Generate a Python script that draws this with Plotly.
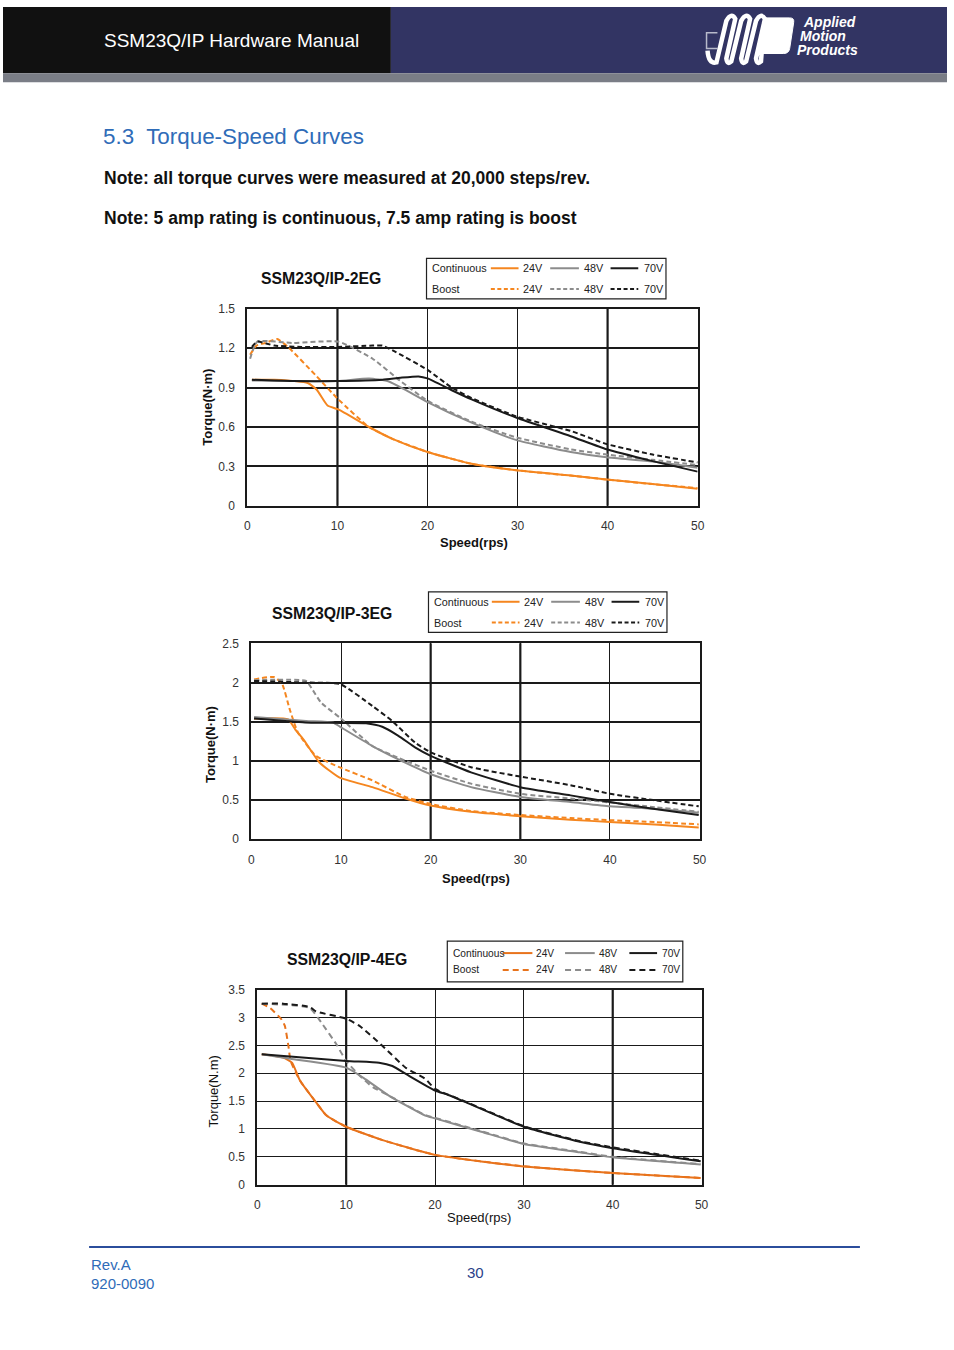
import plotly.graph_objects as go

# ---------------- DATA ----------------
speed_ticks = [0, 10, 20, 30, 40, 50]

# Chart 1: SSM23Q/IP-2EG
eg2_c24_x = [0.5, 3, 6.7, 7.7, 8.9, 10.1, 13.5, 16.1, 20, 24.9, 29.9, 35.9, 39.9, 45, 50]
eg2_c24_y = [0.96, 0.96, 0.935, 0.884, 0.764, 0.734, 0.60, 0.51, 0.41, 0.32, 0.27, 0.23, 0.20, 0.165, 0.13]
eg2_b24_x = [0.3, 1, 2, 3.3, 4.5, 7.7, 10.1, 13.5, 16.1, 20, 24.9, 29.9, 35.9, 39.9, 45, 50]
eg2_b24_y = [1.15, 1.22, 1.24, 1.27, 1.21, 0.985, 0.81, 0.60, 0.51, 0.41, 0.32, 0.27, 0.23, 0.20, 0.165, 0.135]
eg2_c48_x = [0.5, 5, 10, 13.5, 15.7, 17.5, 20, 24.9, 29.9, 35.9, 39.9, 45, 50]
eg2_c48_y = [0.955, 0.95, 0.95, 0.97, 0.947, 0.884, 0.79, 0.633, 0.50, 0.41, 0.37, 0.337, 0.29]
eg2_b48_x = [0.3, 1.1, 5, 10.1, 13.9, 17, 20, 24.9, 29.9, 35.9, 39.9, 45, 50]
eg2_b48_y = [1.12, 1.25, 1.24, 1.25, 1.12, 0.95, 0.80, 0.64, 0.52, 0.43, 0.39, 0.35, 0.31]
eg2_c70_x = [0.5, 5, 10, 15, 17, 19, 20, 22.7, 24.9, 29.9, 35.9, 39.9, 45, 50]
eg2_c70_y = [0.96, 0.95, 0.95, 0.96, 0.975, 0.985, 0.97, 0.88, 0.81, 0.67, 0.53, 0.43, 0.34, 0.26]
eg2_b70_x = [0.5, 1.1, 3, 6, 10, 13.9, 15, 16.5, 20, 22.7, 24.9, 29.9, 35.9, 39.9, 45, 50]
eg2_b70_y = [1.21, 1.25, 1.22, 1.21, 1.21, 1.22, 1.22, 1.17, 1.035, 0.90, 0.82, 0.68, 0.57, 0.47, 0.39, 0.33]

# Chart 2: SSM23Q/IP-3EG
eg3_c24_x = [0.3, 4.1, 4.9, 5.8, 7.6, 9.8, 13.5, 17.2, 20, 24.5, 30, 35.6, 40, 45, 49.9]
eg3_c24_y = [1.54, 1.53, 1.40, 1.275, 0.98, 0.79, 0.665, 0.52, 0.43, 0.35, 0.295, 0.25, 0.22, 0.19, 0.15]
eg3_b24_x = [0.3, 2.5, 3.4, 4.3, 5.2, 7.2, 9.8, 13.5, 17.2, 20, 24.5, 30, 35.6, 40, 45, 49.9]
eg3_b24_y = [2.04, 2.07, 1.99, 1.65, 1.36, 1.065, 0.92, 0.75, 0.54, 0.45, 0.36, 0.31, 0.27, 0.244, 0.22, 0.19]
eg3_c48_x = [0.3, 6.1, 9.1, 9.9, 13.5, 16.4, 20, 24.5, 30, 35.6, 40, 45, 49.9]
eg3_c48_y = [1.56, 1.51, 1.49, 1.435, 1.19, 1.02, 0.83, 0.665, 0.54, 0.475, 0.42, 0.39, 0.34]
eg3_b48_x = [0.3, 6.1, 6.7, 7.8, 9.9, 13.5, 16.4, 20, 24.5, 30, 35.6, 40, 45, 49.9]
eg3_b48_y = [2.03, 2.02, 1.93, 1.74, 1.55, 1.19, 1.04, 0.875, 0.71, 0.58, 0.52, 0.47, 0.41, 0.35]
eg3_c70_x = [0.3, 6, 10, 12.8, 14.6, 16.4, 18.3, 20, 24.5, 30, 35.6, 40, 44.8, 49.9]
eg3_c70_y = [1.54, 1.49, 1.485, 1.48, 1.435, 1.32, 1.17, 1.065, 0.854, 0.665, 0.56, 0.475, 0.39, 0.31]
eg3_b70_x = [0.3, 6, 9.9, 13.5, 15.7, 18.3, 20, 24.5, 30, 35.6, 40, 44.8, 49.9]
eg3_b70_y = [2.02, 2.0, 1.98, 1.70, 1.51, 1.23, 1.11, 0.92, 0.80, 0.69, 0.58, 0.50, 0.42]

# Chart 3: SSM23Q/IP-4EG
eg4_c24_x = [0.5, 2.9, 3.9, 4.8, 6.6, 7.8, 10, 14.1, 20, 25.2, 30, 40, 49.9]
eg4_c24_y = [2.34, 2.28, 2.19, 1.87, 1.48, 1.24, 1.04, 0.80, 0.535, 0.417, 0.327, 0.21, 0.12]
eg4_b24_x = [0.5, 1.45, 2.75, 3.1, 3.5, 3.75, 4.8, 6.6, 7.8, 10, 14.1, 20, 30, 40, 49.9]
eg4_b24_y = [3.25, 3.17, 2.96, 2.85, 2.49, 2.22, 1.87, 1.48, 1.24, 1.04, 0.80, 0.535, 0.33, 0.21, 0.12]
eg4_c48_x = [0.5, 3.7, 10, 12.2, 14.8, 18.9, 20, 25.2, 30, 36.3, 40, 49.9]
eg4_c48_y = [2.34, 2.26, 2.1, 1.89, 1.60, 1.24, 1.19, 0.95, 0.73, 0.58, 0.49, 0.36]
eg4_b48_x = [0.5, 5.9, 7.2, 8.9, 10, 11.5, 13, 14.8, 18.9, 20, 25.2, 30, 36.3, 40, 49.9]
eg4_b48_y = [3.25, 3.17, 2.91, 2.52, 2.22, 1.96, 1.75, 1.60, 1.25, 1.2, 0.96, 0.74, 0.59, 0.50, 0.37]
eg4_c70_x = [0.5, 10, 13.7, 15.2, 17, 20, 21.5, 23.3, 30, 36.3, 40, 49.9]
eg4_c70_y = [2.34, 2.22, 2.19, 2.13, 1.96, 1.69, 1.61, 1.49, 1.04, 0.77, 0.655, 0.42]
eg4_b70_x = [0.5, 2.9, 5.9, 6.6, 10, 11.5, 14.1, 16.7, 18.9, 20, 23.3, 30, 36.3, 40, 49.9]
eg4_b70_y = [3.25, 3.25, 3.19, 3.11, 2.98, 2.85, 2.49, 2.10, 1.90, 1.72, 1.50, 1.05, 0.78, 0.67, 0.43]

chart_titles = ["SSM23Q/IP-2EG", "SSM23Q/IP-3EG", "SSM23Q/IP-4EG"]
y_ranges = [1.5, 2.5, 3.5]
y_dticks = [0.3, 0.5, 0.5]
heavy_speed_grid = [[10, 40], [20, 30], [10, 40]]

# ---------------- STYLE ----------------
W, H = 954, 1350
FONT = "Liberation Sans, Arial, sans-serif"
ORANGE = "#f5861f"
ORANGE3 = "#e8731c"
GRAY = "#8c8c8c"
BLACK = "#1a1a1a"
BLUE = "#2f6cb8"


def X(px):
    return px / W


def Y(py):
    return 1 - py / H


fig = go.Figure()
shapes = []
annotations = []

# plot areas in page pixels: (left, right, top, bottom)
boxes = [(247, 702, 305, 504), (251, 704, 643, 841), (257, 706, 993, 1190)]
series = [
    [(eg2_c24_x, eg2_c24_y, ORANGE, "solid", "24V"), (eg2_b24_x, eg2_b24_y, ORANGE, "dash", "24V"),
     (eg2_c48_x, eg2_c48_y, GRAY, "solid", "48V"), (eg2_b48_x, eg2_b48_y, GRAY, "dash", "48V"),
     (eg2_c70_x, eg2_c70_y, BLACK, "solid", "70V"), (eg2_b70_x, eg2_b70_y, BLACK, "dash", "70V")],
    [(eg3_c24_x, eg3_c24_y, ORANGE, "solid", "24V"), (eg3_b24_x, eg3_b24_y, ORANGE, "dash", "24V"),
     (eg3_c48_x, eg3_c48_y, GRAY, "solid", "48V"), (eg3_b48_x, eg3_b48_y, GRAY, "dash", "48V"),
     (eg3_c70_x, eg3_c70_y, BLACK, "solid", "70V"), (eg3_b70_x, eg3_b70_y, BLACK, "dash", "70V")],
    [(eg4_c24_x, eg4_c24_y, ORANGE3, "solid", "24V"), (eg4_b24_x, eg4_b24_y, ORANGE3, "dash", "24V"),
     (eg4_c48_x, eg4_c48_y, GRAY, "solid", "48V"), (eg4_b48_x, eg4_b48_y, GRAY, "dash", "48V"),
     (eg4_c70_x, eg4_c70_y, BLACK, "solid", "70V"), (eg4_b70_x, eg4_b70_y, BLACK, "dash", "70V")],
]
y_grid_w = [1.9, 2.0, 1.0]
dash_pat = ["5px,3px", "5px,3px", "6px,4px"]

for i, (box, ser) in enumerate(zip(boxes, series)):
    n = "" if i == 0 else str(i + 1)
    l, r, t, b = box
    # heavier vertical grid lines (drawn below the curves)
    for sv in heavy_speed_grid[i]:
        shapes.append(dict(type="line", xref="x" + n, yref=("y" + n) + " domain", x0=sv, x1=sv, y0=0, y1=1,
                           line=dict(color=BLACK, width=2.2), layer="below"))
    for xs, ys, col, dash, name in ser:
        fig.add_trace(go.Scatter(
            x=xs, y=ys, mode="lines", xaxis="x" + n, yaxis="y" + n,
            line=dict(color=col, width=2, dash=dash_pat[i] if dash == "dash" else "solid",
                      shape="spline", smoothing=0.5),
            showlegend=False, hoverinfo="skip", name=name))
    fig.update_layout(**{
        "xaxis" + n: dict(domain=[X(l), X(r)], anchor="y" + n, range=[0, 50], tickvals=speed_ticks,
                          showgrid=True, gridcolor=BLACK, gridwidth=1.1, zeroline=False,
                          showline=True, mirror=True, linecolor=BLACK, linewidth=2,
                          ticks="", ticklabelstandoff=8, fixedrange=True,
                          tickfont=dict(family=FONT, size=12, color="#333")),
        "yaxis" + n: dict(domain=[Y(b), Y(t)], anchor="x" + n, range=[0, y_ranges[i]], dtick=y_dticks[i],
                          tick0=0, showgrid=True, gridcolor=BLACK, gridwidth=y_grid_w[i], zeroline=False,
                          showline=True, mirror=True, linecolor=BLACK, linewidth=2,
                          ticks="", ticklabelstandoff=8, fixedrange=True,
                          tickfont=dict(family=FONT, size=12, color="#333")),
    })

# ---------------- HEADER ----------------
shapes += [
    dict(type="rect", xref="paper", yref="paper", x0=0, x1=X(392), y0=Y(67), y1=1,
         fillcolor="#111111", line=dict(width=0)),
    dict(type="rect", xref="paper", yref="paper", x0=X(392), x1=1, y0=Y(67), y1=1,
         fillcolor="#323463", line=dict(width=0)),
    dict(type="rect", xref="paper", yref="paper", x0=0, x1=1, y0=Y(76), y1=Y(67),
         fillcolor="#7a7d86", line=dict(width=0)),
]


def P(x, y):
    return f"{X(x):.5f},{Y(y):.5f}"


# logo: small outline tab, coil and flag
shapes.append(dict(type="path", xref="paper", yref="paper",
                   path="M " + P(722, 26) + " L " + P(711, 26) + " L " + P(711, 42) + " L " + P(722, 42),
                   line=dict(color="#b8bacb", width=1.5)))
coil = "M " + P(712, 44) + " Q " + P(713, 58) + " " + P(721, 56)
for k in range(3):
    x0 = 721 + 15 * k
    coil += (" L " + P(x0 + 10, 14) + " Q " + P(x0 + 15, 5) + " " + P(x0 + 19, 12)
             + " L " + P(x0 + 10, 52) + " Q " + P(x0 + 11, 59) + " " + P(x0 + 15, 55))
coil += " L " + P(769, 16)
shapes.append(dict(type="path", xref="paper", yref="paper", path=coil,
                   line=dict(color="white", width=4.5)))
flag = ("M " + P(771, 11) + " L " + P(795, 11) + " Q " + P(800, 11) + " " + P(799, 16)
        + " L " + P(795, 42) + " Q " + P(794, 47) + " " + P(789, 47) + " L " + P(762, 47) + " Z")
shapes.append(dict(type="path", xref="paper", yref="paper", path=flag,
                   fillcolor="white", line=dict(color="white", width=1)))

annotations.append(dict(text="SSM23Q/IP Hardware Manual", x=X(100), y=Y(34), xref="paper", yref="paper",
                        xanchor="left", yanchor="middle", showarrow=False,
                        font=dict(family=FONT, size=19, color="white")))
for j, word in enumerate(["Applied", "Motion", "Products"]):
    annotations.append(dict(text=f"<b><i>{word}</i></b>", x=X(806 - 3 * j), y=Y(15 + 14 * j), xref="paper",
                            yref="paper", xanchor="left", yanchor="middle", showarrow=False,
                            font=dict(family=FONT, size=14, color="white")))

# ---------------- PAGE TEXT ----------------
annotations.append(dict(text="5.3  Torque-Speed Curves", x=X(99), y=Y(131), xref="paper", yref="paper",
                        xanchor="left", yanchor="middle", showarrow=False,
                        font=dict(family=FONT, size=22.4, color=BLUE)))
annotations.append(dict(text="<b>Note: all torque curves were measured at 20,000 steps/rev.</b>", x=X(100),
                        y=Y(173), xref="paper", yref="paper", xanchor="left", yanchor="middle",
                        showarrow=False, font=dict(family=FONT, size=17.5, color="#111")))
annotations.append(dict(text="<b>Note: 5 amp rating is continuous, 7.5 amp rating is boost</b>", x=X(100),
                        y=Y(213), xref="paper", yref="paper", xanchor="left", yanchor="middle",
                        showarrow=False, font=dict(family=FONT, size=17.5, color="#111")))

# ---------------- CHART TITLES / AXIS TITLES ----------------
title_pos = [(259, 274), (270, 613), (285, 962)]
for t, (tx, ty) in zip(chart_titles, title_pos):
    annotations.append(dict(text=f"<b>{t}</b>", x=X(tx), y=Y(ty), xref="paper", yref="paper",
                            xanchor="left", yanchor="middle", showarrow=False,
                            font=dict(family=FONT, size=15.8, color="#111")))

xtitle = [("<b>Speed(rps)</b>", 476, 541), ("<b>Speed(rps)</b>", 478, 881), ("Speed(rps)", 481, 1223)]
ytitle = [("<b>Torque(N·m)</b>", 207, 404), ("<b>Torque(N·m)</b>", 209, 745), ("Torque(N.m)", 213, 1096)]
for txt, tx, ty in xtitle:
    annotations.append(dict(text=txt, x=X(tx), y=Y(ty), xref="paper", yref="paper", xanchor="center",
                            yanchor="middle", showarrow=False, font=dict(family=FONT, size=13, color="#111")))
for txt, tx, ty in ytitle:
    annotations.append(dict(text=txt, x=X(tx), y=Y(ty), xref="paper", yref="paper", xanchor="center",
                            yanchor="middle", textangle=-90, showarrow=False,
                            font=dict(family=FONT, size=13, color="#111")))

# ---------------- LEGENDS ----------------
legends = [
    (428, 670, 254, 295, 264, 285, 432, [(493, 521, 523), (553, 582, 585), (614, 642, 646)], 10.8, ORANGE,
     "4px,2.5px"),
    (430, 671, 591, 632, 601, 622, 434, [(494, 522, 525), (554, 583, 586), (615, 643, 647)], 10.8, ORANGE,
     "4px,2.5px"),
    (449, 687, 944, 985, 956, 973, 453, [(505, 535, 537), (568, 598, 600), (633, 661, 664)], 10.2, ORANGE3,
     "6px,4px"),
]
for x0, x1, y0, y1, r1, r2, lx, items, fs, oc, ldash in legends:
    shapes.append(dict(type="rect", xref="paper", yref="paper", x0=X(x0), x1=X(x1), y0=Y(y1), y1=Y(y0),
                       line=dict(color="#222", width=1.2), fillcolor="white"))
    annotations.append(dict(text="Continuous", x=X(lx), y=Y(r1), xref="paper", yref="paper", xanchor="left",
                            yanchor="middle", showarrow=False, font=dict(family=FONT, size=fs, color="#222")))
    annotations.append(dict(text="Boost", x=X(lx), y=Y(r2), xref="paper", yref="paper", xanchor="left",
                            yanchor="middle", showarrow=False, font=dict(family=FONT, size=fs, color="#222")))
    for (a, bb, tx), col, lab in zip(items, [oc, GRAY, BLACK], ["24V", "48V", "70V"]):
        for ry, dash in [(r1, "solid"), (r2, ldash)]:
            shapes.append(dict(type="line", xref="paper", yref="paper", x0=X(a), x1=X(bb), y0=Y(ry), y1=Y(ry),
                               line=dict(color=col, width=2, dash=dash)))
            annotations.append(dict(text=lab, x=X(tx), y=Y(ry), xref="paper", yref="paper", xanchor="left",
                                    yanchor="middle", showarrow=False,
                                    font=dict(family=FONT, size=fs, color="#222")))

# ---------------- FOOTER ----------------
shapes.append(dict(type="line", xref="paper", yref="paper", x0=X(87), x1=X(866), y0=Y(1253), y1=Y(1253),
                   line=dict(color="#2b4d9c", width=2)))
annotations.append(dict(text="Rev.A", x=X(87), y=Y(1271), xref="paper", yref="paper", xanchor="left",
                        yanchor="middle", showarrow=False, font=dict(family=FONT, size=15, color=BLUE)))
annotations.append(dict(text="920-0090", x=X(87), y=Y(1290), xref="paper", yref="paper", xanchor="left",
                        yanchor="middle", showarrow=False, font=dict(family=FONT, size=15, color=BLUE)))
annotations.append(dict(text="30", x=X(477), y=Y(1279), xref="paper", yref="paper", xanchor="center",
                        yanchor="middle", showarrow=False, font=dict(family=FONT, size=15, color="#2b3f8a")))

fig.update_layout(width=W, height=H, margin=dict(l=0, r=0, t=0, b=0), paper_bgcolor="white",
                  plot_bgcolor="white", shapes=shapes, annotations=annotations, showlegend=False,
                  font=dict(family=FONT))
# remove the default body margin so the page starts at the very top-left corner
fig.write_html("out.html", config={"displayModeBar": False},
               post_script="document.body.style.margin='0';document.body.style.overflow='hidden';")
